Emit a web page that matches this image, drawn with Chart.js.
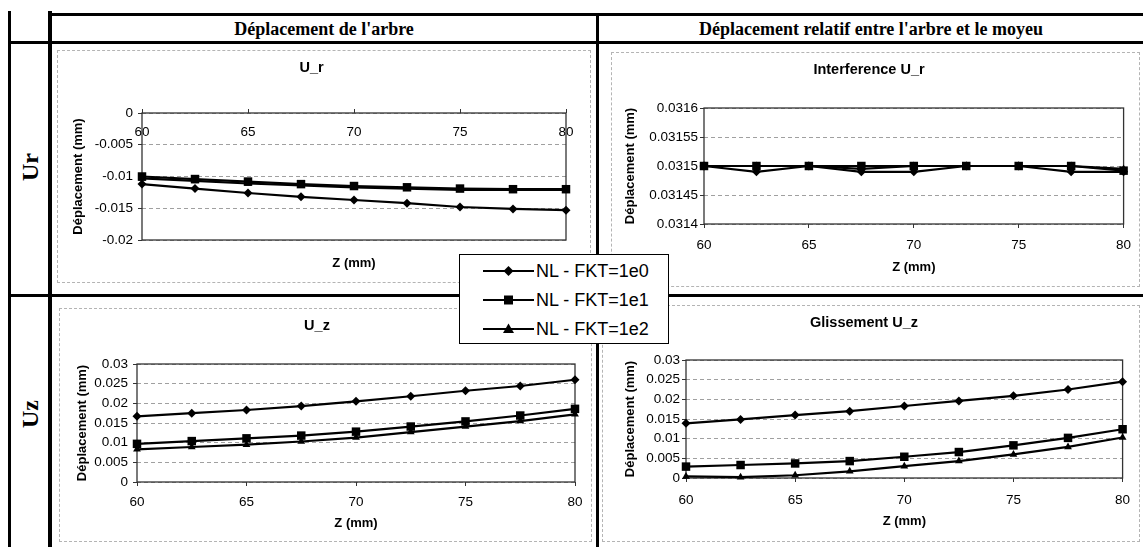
<!DOCTYPE html>
<html lang="fr">
<head>
<meta charset="UTF-8" />
<title>Déplacements arbre / moyeu</title>
<script src="https://cdn.jsdelivr.net/npm/chart.js"></script>
<style>
  html, body { margin: 0; padding: 0; background: #fff; }
  body { width: 1143px; height: 547px; position: relative; overflow: hidden; font-family: "Liberation Sans", Arial, sans-serif; }
  .ln { position: absolute; background: #000; }
  .head { position: absolute; font-family: "Liberation Serif", "Times New Roman", serif; font-weight: bold; font-size: 18px; line-height: 20px; text-align: center; }
  .rowlab { position: absolute; font-family: "Liberation Serif", "Times New Roman", serif; font-weight: bold; font-size: 24px; transform: translate(-50%, -50%) rotate(-90deg); white-space: nowrap; }
  .box { position: absolute; border: 1px dashed #b4b4b4; box-sizing: border-box; pointer-events: none; }
  canvas.chart { position: absolute; }
  #legend { position: absolute; left: 459px; top: 254px; width: 210px; height: 90px; box-sizing: border-box; border: 1px solid #000; background: #fff; z-index: 5; }
  #legend .item { position: absolute; left: 23px; height: 20px; }
  #legend canvas { position: absolute; left: 0; top: 3px; }
  #legend span { position: absolute; left: 53px; top: 0; font-size: 18px; line-height: 20px; white-space: nowrap; }
</style>
</head>
<body>

<!-- grille du tableau -->
<div class="ln" style="left:8px; top:11px; width:3px; height:536px;"></div>
<div class="ln" style="left:48px; top:11px; width:4px; height:536px;"></div>
<div class="ln" style="left:48px; top:13px; width:1095px; height:3px;"></div>
<div class="ln" style="left:8px; top:41px; width:1135px; height:3px;"></div>
<div class="ln" style="left:596px; top:13px; width:3px; height:534px;"></div>
<div class="ln" style="left:8px; top:294px; width:1135px; height:3px;"></div>

<div class="head" style="left:52px; width:544px; top:19px;">Déplacement de l'arbre</div>
<div class="head" style="left:599px; width:544px; top:19px;">Déplacement relatif entre l'arbre et le moyeu</div>
<div class="rowlab" style="left:30px; top:167px;">Ur</div>
<div class="rowlab" style="left:30px; top:414px;">Uz</div>

<canvas class="chart" id="arbreUr" style="left:57px; top:50px;" width="534" height="233"></canvas>
<canvas class="chart" id="interUr" style="left:611px; top:52px;" width="529" height="235"></canvas>
<canvas class="chart" id="arbreUz" style="left:59px; top:308px;" width="533" height="234"></canvas>
<canvas class="chart" id="glisUz" style="left:602px; top:305px;" width="538" height="237"></canvas>
<div class="box" style="left:57px; top:50px; width:534px; height:233px;"></div>
<div class="box" style="left:611px; top:52px; width:529px; height:235px;"></div>
<div class="box" style="left:59px; top:308px; width:533px; height:234px;"></div>
<div class="box" style="left:602px; top:305px; width:538px; height:237px;"></div>

<div id="legend"></div>

<script>
  // abscisses communes
  const zValues = [60, 62.5, 65, 67.5, 70, 72.5, 75, 77.5, 80];
  const zTicks = [60, 65, 70, 75, 80];
  const seriesNames = ['NL - FKT=1e0', 'NL - FKT=1e1', 'NL - FKT=1e2'];

  // Déplacement de l'arbre - U_r
  const arbreUr1e0 = [-0.0112, -0.0119, -0.0126, -0.0132, -0.0137, -0.0142, -0.0148, -0.0151, -0.0153];
  const arbreUr1e1 = [-0.0100, -0.0104, -0.0108, -0.0112, -0.0115, -0.0117, -0.0119, -0.0120, -0.0120];
  const arbreUr1e2 = [-0.0103, -0.0107, -0.0111, -0.0114, -0.0117, -0.0119, -0.0121, -0.0121, -0.0121];
  const arbreUrTicks = [-0.02, -0.015, -0.01, -0.005, 0];

  // Interference U_r
  const interUr1e0 = [0.03150, 0.03149, 0.03150, 0.03149, 0.03149, 0.03150, 0.03150, 0.03149, 0.03149];
  const interUr1e1 = [0.03150, 0.03150, 0.03150, 0.03150, 0.03150, 0.03150, 0.03150, 0.03150, 0.031492];
  const interUr1e2 = [0.03150, 0.03150, 0.03150, 0.031495, 0.03150, 0.03150, 0.03150, 0.03150, 0.031495];
  const interUrTicks = [0.0314, 0.03145, 0.0315, 0.03155, 0.0316];

  // Déplacement de l'arbre - U_z
  const arbreUz1e0 = [0.0167, 0.0175, 0.0183, 0.0193, 0.0205, 0.0218, 0.0232, 0.0244, 0.0260];
  const arbreUz1e1 = [0.0097, 0.0104, 0.0111, 0.0118, 0.0128, 0.0141, 0.0154, 0.0169, 0.0186];
  const arbreUz1e2 = [0.0083, 0.0089, 0.0095, 0.0103, 0.0113, 0.0127, 0.0141, 0.0155, 0.0172];

  // Glissement U_z
  const glisUz1e0 = [0.0139, 0.0149, 0.0160, 0.0170, 0.0183, 0.0196, 0.0209, 0.0225, 0.0245];
  const glisUz1e1 = [0.0029, 0.0033, 0.0037, 0.0043, 0.0054, 0.0066, 0.0083, 0.0102, 0.0124];
  const glisUz1e2 = [0.0004, 0.0002, 0.0007, 0.0017, 0.0030, 0.0043, 0.0060, 0.0079, 0.0103];
  const uzTicks = [0, 0.005, 0.01, 0.015, 0.02, 0.025, 0.03];

  const markers = [
    { style: 'rectRot', radius: 4.5 },
    { style: 'rect', radius: 6 },
    { style: 'triangle', radius: 4.5 }
  ];

  Chart.defaults.font.family = '"Liberation Sans", Arial, sans-serif';
  Chart.defaults.color = '#000';

  const TITLE_SIZE = 14.5;
  const TICK_SIZE = 13.5;
  const AXIS_SIZE = 13;

  const plotBorder = {
    id: 'plotBorder',
    beforeDatasetsDraw(chart) {
      const { ctx, chartArea: a } = chart;
      ctx.save();
      ctx.strokeStyle = '#333';
      ctx.lineWidth = 1.3;
      ctx.strokeRect(a.left, a.top, a.right - a.left, a.bottom - a.top);
      ctx.restore();
    }
  };

  function fmt(v) {
    return String(parseFloat(v.toFixed(6)));
  }

  function makeDatasets(series) {
    return series.map((vals, i) => ({
      label: seriesNames[i],
      data: zValues.map((z, k) => ({ x: z, y: vals[k] })),
      borderColor: '#000',
      backgroundColor: '#000',
      borderWidth: 2.2,
      pointStyle: markers[i].style,
      pointRadius: markers[i].radius,
      pointBorderWidth: 0,
      tension: 0,
      clip: false,
      xAxisID: 'x',
      yAxisID: 'y'
    }));
  }

  // g : géométrie mesurée sur l'image (px relatifs au cadre du graphique)
  function makeChart(id, title, series, yTicks, g) {
    const canvas = document.getElementById(id);
    const padTop = g.titleY - TITLE_SIZE * 1.2 / 2;
    const axisTitle = t => ({ display: true, text: t, font: { size: AXIS_SIZE, weight: 'bold' } });

    const scales = {
      y: {
        type: 'linear',
        position: 'left',
        min: yTicks[0],
        max: yTicks[yTicks.length - 1],
        afterBuildTicks: s => { s.ticks = yTicks.map(v => ({ value: v })); },
        afterFit: s => { s.width = g.left; },
        ticks: { font: { size: TICK_SIZE }, padding: g.yGap - 4, callback: v => fmt(v) },
        grid: { color: '#a0a0a0', lineWidth: 1, tickColor: '#333', tickLength: 4 },
        border: { display: false, dash: [4, 3] },
        title: Object.assign(axisTitle('Déplacement (mm)'), { padding: { top: g.yTitleX - AXIS_SIZE * 0.6, bottom: 0 } })
      }
    };

    const zTitle = Object.assign(axisTitle('Z (mm)'), { padding: { top: 0, bottom: g.zFromBottom - AXIS_SIZE * 0.6 } });

    if (g.xOnTop) {
      // l'axe Z croise en y = 0 : étiquettes sous le bord supérieur
      scales.x = {
        type: 'linear', position: 'top', min: 60, max: 80,
        afterBuildTicks: s => { s.ticks = zTicks.map(v => ({ value: v })); },
        afterFit: s => { s.height = 0; },
        ticks: { font: { size: TICK_SIZE }, mirror: true, padding: g.xGap - TICK_SIZE * 0.6, autoSkip: false, maxRotation: 0, callback: v => String(v) },
        grid: { drawOnChartArea: false, tickColor: '#333', tickLength: 4 },
        border: { display: false }
      };
      scales.xb = {
        type: 'linear', position: 'bottom', min: 60, max: 80,
        afterFit: s => { s.height = g.bottom; },
        ticks: { display: false },
        grid: { display: false },
        border: { display: false },
        title: zTitle
      };
    } else {
      scales.x = {
        type: 'linear', position: 'bottom', min: 60, max: 80,
        afterBuildTicks: s => { s.ticks = zTicks.map(v => ({ value: v })); },
        afterFit: s => { s.height = g.bottom; },
        ticks: { font: { size: TICK_SIZE }, padding: g.xGap - 4 - TICK_SIZE * 0.6, autoSkip: false, maxRotation: 0, callback: v => String(v) },
        grid: { drawOnChartArea: false, tickColor: '#333', tickLength: 4 },
        border: { display: false },
        title: zTitle
      };
    }

    return new Chart(canvas, {
      type: 'line',
      data: { datasets: makeDatasets(series) },
      options: {
        responsive: false,
        animation: false,
        events: [],
        layout: { padding: { left: 0, right: g.right, top: padTop, bottom: 0 } },
        plugins: {
          legend: { display: false },
          tooltip: { enabled: false },
          title: {
            display: true,
            text: title,
            font: { size: TITLE_SIZE, weight: 'bold' },
            padding: { top: 0, bottom: g.top - padTop - TITLE_SIZE * 1.2 }
          }
        },
        scales: scales
      },
      plugins: [plotBorder]
    });
  }

  makeChart('arbreUr', 'U_r', [arbreUr1e0, arbreUr1e1, arbreUr1e2], arbreUrTicks,
    { left: 85, top: 63, right: 25, bottom: 43, titleY: 18, zFromBottom: 20, yTitleX: 21, yGap: 9, xGap: 19, xOnTop: true });
  makeChart('interUr', 'Interference U_r', [interUr1e0, interUr1e1, interUr1e2], interUrTicks,
    { left: 93, top: 56, right: 13, bottom: 63, titleY: 18, zFromBottom: 20, yTitleX: 19, yGap: 6, xGap: 21 });
  makeChart('arbreUz', 'U_z', [arbreUz1e0, arbreUz1e1, arbreUz1e2], uzTicks,
    { left: 78, top: 56, right: 17, bottom: 60, titleY: 18, zFromBottom: 19, yTitleX: 23, yGap: 9, xGap: 20 });
  makeChart('glisUz', 'Glissement U_z', [glisUz1e0, glisUz1e1, glisUz1e2], uzTicks,
    { left: 84, top: 55, right: 14, bottom: 64, titleY: 18, zFromBottom: 21, yTitleX: 28, yGap: 6, xGap: 22 });

  // légende commune, au centre du tableau
  function drawSample(cv, m) {
    const ctx = cv.getContext('2d');
    const w = cv.width, h = cv.height, cx = w / 2, cy = h / 2;
    ctx.strokeStyle = '#000';
    ctx.lineWidth = 2.2;
    ctx.beginPath(); ctx.moveTo(0, cy); ctx.lineTo(w, cy); ctx.stroke();
    ctx.fillStyle = '#000';
    ctx.beginPath();
    if (m.style === 'rectRot') {
      ctx.moveTo(cx, cy - 5); ctx.lineTo(cx + 5, cy); ctx.lineTo(cx, cy + 5); ctx.lineTo(cx - 5, cy);
    } else if (m.style === 'rect') {
      ctx.rect(cx - 4.5, cy - 4.5, 9, 9);
    } else {
      ctx.moveTo(cx, cy - 5.5); ctx.lineTo(cx + 5.5, cy + 4); ctx.lineTo(cx - 5.5, cy + 4);
    }
    ctx.closePath();
    ctx.fill();
  }

  const legend = document.getElementById('legend');
  const rowTops = [6, 35, 64];
  seriesNames.forEach((name, i) => {
    const item = document.createElement('div');
    item.className = 'item';
    item.style.top = rowTops[i] + 'px';
    const cv = document.createElement('canvas');
    cv.width = 51; cv.height = 14;
    const sp = document.createElement('span');
    sp.textContent = name;
    item.appendChild(cv);
    item.appendChild(sp);
    legend.appendChild(item);
    drawSample(cv, markers[i]);
  });
</script>
</body>
</html>
